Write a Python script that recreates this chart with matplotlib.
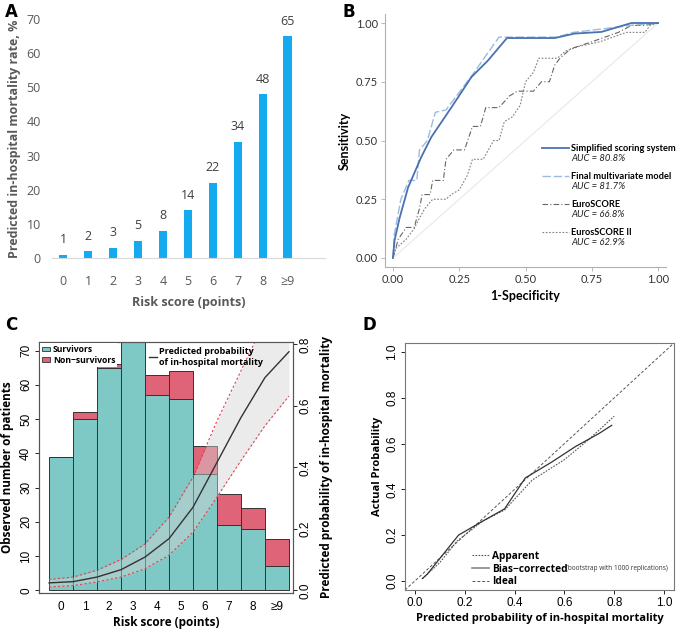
import matplotlib
matplotlib.use("Agg")
import matplotlib.pyplot as plt
from matplotlib.lines import Line2D
from matplotlib.patches import Patch
import numpy as np

plt.rcParams['font.family'] = ['Open Sans', 'DejaVu Sans']

# ---- data ----
score_labels = ['0', '1', '2', '3', '4', '5', '6', '7', '8', '≥9']
pred_rate = [1, 2, 3, 5, 8, 14, 22, 34, 48, 65]

# ROC curves (1-specificity, sensitivity)
simp_x = [0, 0.006, 0.025, 0.057, 0.107, 0.145, 0.22, 0.296, 0.358, 0.43, 0.61, 0.685, 0.786, 0.9, 1.0]
simp_y = [0, 0.075, 0.17, 0.30, 0.43, 0.515, 0.64, 0.77, 0.84, 0.936, 0.936, 0.955, 0.962, 1.0, 1.0]
final_x = [0, 0.005, 0.03, 0.06, 0.09, 0.10, 0.13, 0.16, 0.20, 0.22, 0.30, 0.40, 0.43, 0.62, 0.68, 0.90, 1.0]
final_y = [0, 0.10, 0.25, 0.33, 0.33, 0.46, 0.50, 0.62, 0.63, 0.66, 0.78, 0.94, 0.94, 0.94, 0.96, 0.99, 1.0]
euro_x = [0, 0.01, 0.02, 0.05, 0.08, 0.10, 0.11, 0.14, 0.15, 0.19, 0.20, 0.23, 0.27, 0.30, 0.33, 0.35,
          0.40, 0.44, 0.47, 0.50, 0.53, 0.56, 0.59, 0.61, 0.63, 0.67, 0.75, 0.80, 0.85, 0.90, 0.95, 1.0]
euro_y = [0, 0.04, 0.08, 0.13, 0.13, 0.21, 0.27, 0.27, 0.33, 0.33, 0.42, 0.46, 0.46, 0.56, 0.56, 0.64,
          0.64, 0.69, 0.71, 0.71, 0.71, 0.75, 0.75, 0.82, 0.85, 0.89, 0.92, 0.94, 0.96, 0.99, 0.99, 1.0]
euro2_x = [0, 0.01, 0.05, 0.08, 0.10, 0.12, 0.15, 0.20, 0.22, 0.25, 0.28, 0.30, 0.34, 0.36, 0.38, 0.40,
           0.42, 0.45, 0.48, 0.50, 0.53, 0.55, 0.62, 0.65, 0.70, 0.78, 0.83, 0.88, 0.95, 0.97, 1.0]
euro2_y = [0, 0.04, 0.08, 0.125, 0.17, 0.21, 0.25, 0.25, 0.27, 0.29, 0.35, 0.42, 0.42, 0.46, 0.50, 0.50,
           0.58, 0.60, 0.65, 0.75, 0.79, 0.85, 0.85, 0.88, 0.90, 0.92, 0.94, 0.96, 0.96, 0.99, 1.0]
roc_names = ['Simplified scoring system', 'Final multivariate model', 'EuroSCORE', 'EurosSCORE II']
roc_auc = ['80.8', '81.7', '66.8', '62.9']

# observed patients
survivors = [39, 50, 65, 74, 57, 56, 34, 19, 18, 7]
non_survivors = [0, 2, 1, 2, 6, 8, 8, 9, 6, 8]
# predicted probability curve, at bar edges
curve_x = [-0.5, 0.5, 1.5, 2.5, 3.5, 4.5, 5.5, 6.5, 7.5, 8.5, 9.5]
curve_p = [0.024, 0.028, 0.043, 0.067, 0.108, 0.168, 0.27, 0.416, 0.562, 0.692, 0.776]
curve_lo = [0.011, 0.015, 0.027, 0.043, 0.07, 0.114, 0.189, 0.303, 0.422, 0.535, 0.632]
curve_hi = [0.035, 0.043, 0.065, 0.10, 0.151, 0.238, 0.368, 0.551, 0.714, 0.876, 0.96]

# calibration
app_x = [0.03, 0.10, 0.17, 0.27, 0.36, 0.47, 0.60, 0.70, 0.80]
app_y = [0.01, 0.08, 0.175, 0.26, 0.31, 0.44, 0.53, 0.62, 0.72]
bias_x = [0.03, 0.05, 0.175, 0.27, 0.36, 0.443, 0.55, 0.644, 0.74, 0.79]
bias_y = [0.01, 0.03, 0.20, 0.26, 0.315, 0.45, 0.52, 0.587, 0.645, 0.68]

W, H = 680, 633
fig = plt.figure(figsize=(W / 100, H / 100), dpi=100)


def box(x0, y0, x1, y1):
    return [x0 / W, 1 - y1 / H, (x1 - x0) / W, (y1 - y0) / H]


# ---------------- A ----------------
axA = fig.add_axes(box(52, 19, 325, 258))
xa = np.arange(len(score_labels))
axA.bar(xa, pred_rate, width=0.33, color='#14aaef')
for xi, v in zip(xa, pred_rate):
    axA.text(xi, v + 2.5, str(v), ha='center', va='bottom', fontsize=9, color='#404040')
axA.set_xlim(-0.45, 10.5)
axA.set_ylim(0, 70)
axA.set_yticks(range(0, 71, 10))
axA.set_xticks(xa)
axA.set_xticklabels(score_labels)
for s in ['top', 'right', 'left']:
    axA.spines[s].set_visible(False)
axA.spines['bottom'].set_color('#d9d9d9')
axA.tick_params(length=0, labelsize=9, colors='#595959', pad=8)
axA.tick_params(axis='x', pad=12)
axA.set_xlabel('Risk score (points)', fontsize=9, fontweight='bold', color='#595959', labelpad=6)
axA.set_ylabel('Predicted in-hospital mortality rate, %', fontsize=9, fontweight='bold',
               color='#595959', labelpad=4)
fig.text(5 / W, 1 - 12 / H, 'A', fontsize=12, fontweight='bold', family='DejaVu Sans', va='center')

# ---------------- B ----------------
axB = fig.add_axes(box(385, 13.6, 666, 267.4))
axB.plot([0, 1], [0, 1], color='#e8e8e8', lw=0.8)
axB.plot(euro2_x, euro2_y, color='#7f7f7f', lw=0.8, ls=(0, (1.5, 1.5)))
axB.plot(euro_x, euro_y, color='#666666', lw=0.8, ls=(0, (5, 2, 1, 2)))
axB.plot(final_x, final_y, color='#9dbbe0', lw=1.0, ls=(0, (6, 2)))
axB.plot(simp_x, simp_y, color='#4a72b0', lw=1.3)
axB.set_xlim(-0.03, 1.03)
axB.set_ylim(-0.04, 1.04)
ticks4 = [0, 0.25, 0.5, 0.75, 1.0]
axB.set_xticks(ticks4)
axB.set_yticks(ticks4)
axB.set_xticklabels(['0.00', '0.25', '0.50', '0.75', '1.00'])
axB.set_yticklabels(['0.00', '0.25', '0.50', '0.75', '1.00'])
for s in ['top', 'right']:
    axB.spines[s].set_visible(False)
for s in ['left', 'bottom']:
    axB.spines[s].set_color('#b0b0b0')
    axB.spines[s].set_linewidth(0.8)
axB.tick_params(length=3, width=0.6, color='#b0b0b0', labelsize=8, labelcolor='#333333', pad=2)
for lab in axB.get_xticklabels() + axB.get_yticklabels():
    lab.set_family('Lato')
axB.set_xlabel('1-Specificity', fontsize=9, fontweight='bold', family='Lato', labelpad=3)
axB.set_ylabel('Sensitivity', fontsize=9, fontweight='bold', family='Lato', labelpad=4)
handlesB = [Line2D([], [], color='#4a72b0', lw=1.3),
            Line2D([], [], color='#9dbbe0', lw=1.0, ls=(0, (6, 2))),
            Line2D([], [], color='#666666', lw=0.8, ls=(0, (5, 2, 1, 2))),
            Line2D([], [], color='#7f7f7f', lw=0.8, ls=(0, (1.5, 1.5)))]
legB = fig.legend(handlesB, roc_names, loc='upper left',
                  bbox_to_anchor=(542 / W, 1 - 144 / H),
                  frameon=False, handlelength=2.9, handletextpad=0.25,
                  labelspacing=2.05, borderpad=0, borderaxespad=0,
                  prop={'weight': 'bold', 'size': 6.7, 'family': 'Lato'})
fig.canvas.draw()
for t, a in zip(legB.get_texts(), roc_auc):
    bb = t.get_window_extent()
    fig.text(bb.x0 / W, (bb.y0 - 1) / H, 'AUC = ' + a + '%', fontsize=6.8, style='italic',
             family='Lato', va='top', ha='left', color='#222222')
fig.text(342 / W, 1 - 12 / H, 'B', fontsize=12, fontweight='bold', family='DejaVu Sans', va='center')

# ---------------- C ----------------
axC = fig.add_axes(box(39, 342, 293, 593))
xc = np.arange(len(survivors))
axC.bar(xc, survivors, width=1.0, color='#7ec8c6', edgecolor='#333333', lw=0.7)
axC.bar(xc, non_survivors, bottom=survivors, width=1.0, color='#e06478', edgecolor='#333333', lw=0.7)
axC.set_xlim(-0.92, 9.67)
axC.set_ylim(-0.8, 72.5)
axC.set_xticks(xc)
axC.set_xticklabels(score_labels)
axC.tick_params(axis='x', length=0, labelsize=8.5, pad=6)
axC.set_yticks(range(0, 71, 10))
axC.tick_params(axis='y', length=3, width=0.6, labelsize=8.5, pad=2)
for lab in axC.get_xticklabels() + axC.get_yticklabels():
    lab.set_family(['Liberation Sans', 'DejaVu Sans'])
plt.setp(axC.get_yticklabels(), rotation=90, va='center')
for s in axC.spines.values():
    s.set_color('#555555')
    s.set_linewidth(0.8)
axC.set_xlabel('Risk score (points)', fontsize=8.5, fontweight='bold', labelpad=2)
axC.set_ylabel('Observed number of patients', fontsize=8.5, fontweight='bold', labelpad=4)

axC2 = axC.twinx()
axC2.set_ylim(-0.8 * 0.8 / 71.8, 72.5 * 0.8 / 71.8)
axC2.fill_between(curve_x, curve_lo, curve_hi, color='#d4d4d4', alpha=0.45, lw=0)
axC2.plot(curve_x, curve_hi, color='#e0404f', lw=0.8, ls=(0, (2, 2)))
axC2.plot(curve_x, curve_lo, color='#e0404f', lw=0.8, ls=(0, (2, 2)))
axC2.plot(curve_x, curve_p, color='#333333', lw=1.0)
axC2.set_yticks([0, 0.2, 0.4, 0.6, 0.8])
axC2.set_yticklabels(['0.0', '0.2', '0.4', '0.6', '0.8'])
axC2.tick_params(axis='y', length=3, width=0.6, labelsize=8.5, pad=2)
for lab in axC2.get_yticklabels():
    lab.set_family('Liberation Sans')
plt.setp(axC2.get_yticklabels(), rotation=90, va='center')
for s in axC2.spines.values():
    s.set_color('#555555')
    s.set_linewidth(0.8)
axC2.set_ylabel('Predicted probability of in-hospital mortality', fontsize=8.5, fontweight='bold',
                labelpad=6)
legC1 = axC2.legend([Patch(facecolor='#7ec8c6', edgecolor='#333333', lw=0.6),
                     Patch(facecolor='#e06478', edgecolor='#333333', lw=0.6)],
                    ['Survivors', 'Non−survivors'], loc='upper left', bbox_to_anchor=(0.0, 1.0),
                    frameon=True, fancybox=False, edgecolor='none', facecolor='white', framealpha=1,
                    handlelength=0.9, handleheight=0.45, handletextpad=0.35,
                    labelspacing=0.2, borderpad=0.25, borderaxespad=0.1,
                    prop={'weight': 'bold', 'size': 6.2, 'family': ['Open Sans', 'DejaVu Sans']})
axC2.add_artist(legC1)
axC2.legend([Line2D([], [], color='#333333', lw=1.0)],
            ['Predicted probability\nof in-hospital mortality'], loc='upper left',
            bbox_to_anchor=(0.41, 1.0), frameon=False, handlelength=0.9, handletextpad=0.3,
            borderaxespad=0.2, labelspacing=0.1, prop={'weight': 'bold', 'size': 6.5})
fig.text(5 / W, 1 - 325 / H, 'C', fontsize=12, fontweight='bold', family='DejaVu Sans', va='center')

# ---------------- D ----------------
axD = fig.add_axes(box(405, 343, 674, 590))
axD.plot([-0.04, 1.04], [-0.04, 1.04], color='#555555', lw=0.7, ls=(0, (3, 2)))
axD.plot(app_x, app_y, color='#555555', lw=0.8, ls=(0, (1.5, 1.2)))
axD.plot(bias_x, bias_y, color='#333333', lw=0.9)
axD.set_xlim(-0.04, 1.04)
axD.set_ylim(-0.04, 1.04)
ticksD = [0, 0.2, 0.4, 0.6, 0.8, 1.0]
axD.set_xticks(ticksD)
axD.set_yticks(ticksD)
axD.set_xticklabels(['0.0', '0.2', '0.4', '0.6', '0.8', '1.0'])
axD.set_yticklabels(['0.0', '0.2', '0.4', '0.6', '0.8', '1.0'])
axD.tick_params(length=3, width=0.6, labelsize=8.5, pad=2)
for lab in axD.get_xticklabels() + axD.get_yticklabels():
    lab.set_family('Liberation Sans')
plt.setp(axD.get_yticklabels(), rotation=90, va='center')
for s in axD.spines.values():
    s.set_color('#777777')
    s.set_linewidth(0.8)
axD.set_xlabel('Predicted probability of in-hospital mortality', fontsize=8, fontweight='bold', labelpad=3)
axD.set_ylabel('Actual Probability', fontsize=8, fontweight='bold', labelpad=2)
axD.legend([Line2D([], [], color='#555555', lw=0.8, ls=(0, (1.5, 1.2))),
            Line2D([], [], color='#888888', lw=1.2),
            Line2D([], [], color='#555555', lw=0.7, ls=(0, (3, 2)))],
           ['Apparent', 'Bias−corrected', 'Ideal'], loc='lower left', bbox_to_anchor=(0.215, -0.025),
           frameon=False, handlelength=1.7, handletextpad=0.3, labelspacing=0.15,
           prop={'weight': 'bold', 'size': 7.3, 'family': ['Open Sans', 'DejaVu Sans']})
axD.text(0.598, 0.089, '(bootstrap with 1000 replications)', transform=axD.transAxes,
         fontsize=4.7, va='center', ha='left', color='#333333')
fig.text(362 / W, 1 - 325 / H, 'D', fontsize=12, fontweight='bold', family='DejaVu Sans', va='center')

fig.savefig('out.png', dpi=100)
